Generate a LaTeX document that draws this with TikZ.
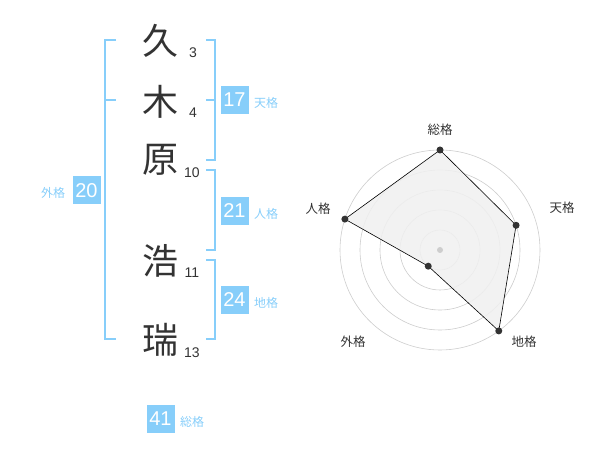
\documentclass[tikz,border=0pt]{standalone}
\usepackage{fontspec}
\setmainfont{Liberation Sans}
\newfontfamily\jp{Noto Sans CJK JP}
\usetikzlibrary{calc}
\definecolor{BleuCiel}{RGB}{135,206,250}
\definecolor{GrisTexte}{RGB}{51,51,51}
\definecolor{GrisCercle}{RGB}{205,205,205}
\definecolor{GrisFond}{RGB}{240,240,240}
\tikzstyle{kanji}     =[font=\jp\fontsize{36}{36}\selectfont, text=GrisTexte, inner sep=0pt]
\tikzstyle{traits}    =[font=\fontsize{14}{14}\selectfont, text=GrisTexte, inner sep=0pt]
\tikzstyle{crochet}   =[line width=2pt, color=BleuCiel]
\tikzstyle{boite}     =[fill=BleuCiel, text=white, font=\fontsize{20}{20}\selectfont, minimum size=28pt, inner sep=0pt]
\tikzstyle{nomkaku}   =[font=\jp\fontsize{12}{12}\selectfont, text=BleuCiel, inner sep=0pt]
\tikzstyle{anneau}    =[line width=0.6pt, color=GrisCercle]
\tikzstyle{sommet}    =[circle, fill=GrisTexte, minimum size=7pt, inner sep=0pt]
\tikzstyle{axe}       =[font=\jp\fontsize{12.5}{12.5}\selectfont, text=GrisTexte, inner sep=0pt]

\begin{document}
\begin{tikzpicture}[x=1pt,y=-1pt]
 \useasboundingbox (0,0) rectangle (600,470);
 \draw (160,41) node[kanji] (k1) {久};
 \draw (160,102) node[kanji] (k2) {木};
 \draw (160,160) node[kanji] (k3) {原};
 \draw (160,261) node[kanji] (k4) {浩};
 \draw (160,340) node[kanji] (k5) {瑞};
 \draw (193,52.5) node[traits] (t1) {3};
 \draw (193,113) node[traits] (t2) {4};
 \draw (192,173) node[traits] (t3) {10};
 \draw (192,272.5) node[traits] (t4) {11};
 \draw (192,352.5) node[traits] (t5) {13};
 \draw[crochet] (116,40)--(105,40)--(105,339.5)--(116,339.5);
 \draw[crochet] (105,100)--(116,100);
 \draw[crochet] (206,40)--(215,40)--(215,160)--(206,160);
 \draw[crochet] (206,100)--(215,100);
 \draw[crochet] (206,170)--(215,170)--(215,250)--(206,250);
 \draw[crochet] (206,260)--(215,260)--(215,339.5)--(206,339.5);
 \draw (234.5,100) node[boite] (ten) {17};
 \draw (266,103) node[nomkaku] {天格};
 \draw (234.5,211) node[boite] (jin) {21};
 \draw (266,214) node[nomkaku] {人格};
 \draw (234.5,300) node[boite] (chi) {24};
 \draw (266,303) node[nomkaku] {地格};
 \draw (86.5,190.5) node[boite] (gai) {20};
 \draw (53,193) node[nomkaku] {外格};
 \draw (160.5,419) node[boite] (sou) {41};
 \draw (192,422) node[nomkaku] {総格};
 \begin{scope}[shift={(440,250)}, y=1pt]
  \foreach \r in {20,40,...,100}
   \draw[anneau] (0,0) circle (\r pt);
  \coordinate (v1) at (90:100);
  \coordinate (v2) at (18:80);
  \coordinate (v3) at (-54:100);
  \coordinate (v4) at (-126:20);
  \coordinate (v5) at (162:100);
  \fill[GrisFond, opacity=0.85] (v1)--(v2)--(v3)--(v4)--(v5)--cycle;
  \draw[line width=0.6pt] (v1)--(v2)--(v3)--(v4)--(v5)--cycle;
  \fill[GrisCercle] (0,0) circle (3pt);
  \foreach \v in {v1,v2,v3,v4,v5}
   \node[sommet] at (\v) {};
  \draw (0,120) node[axe] (a1) {総格};
  \draw (122,42) node[axe] (a2) {天格};
  \draw (84,-92) node[axe] (a3) {地格};
  \draw (-87,-92) node[axe] (a4) {外格};
  \draw (-122,41) node[axe] (a5) {人格};
 \end{scope}
\end{tikzpicture}
\end{document}
